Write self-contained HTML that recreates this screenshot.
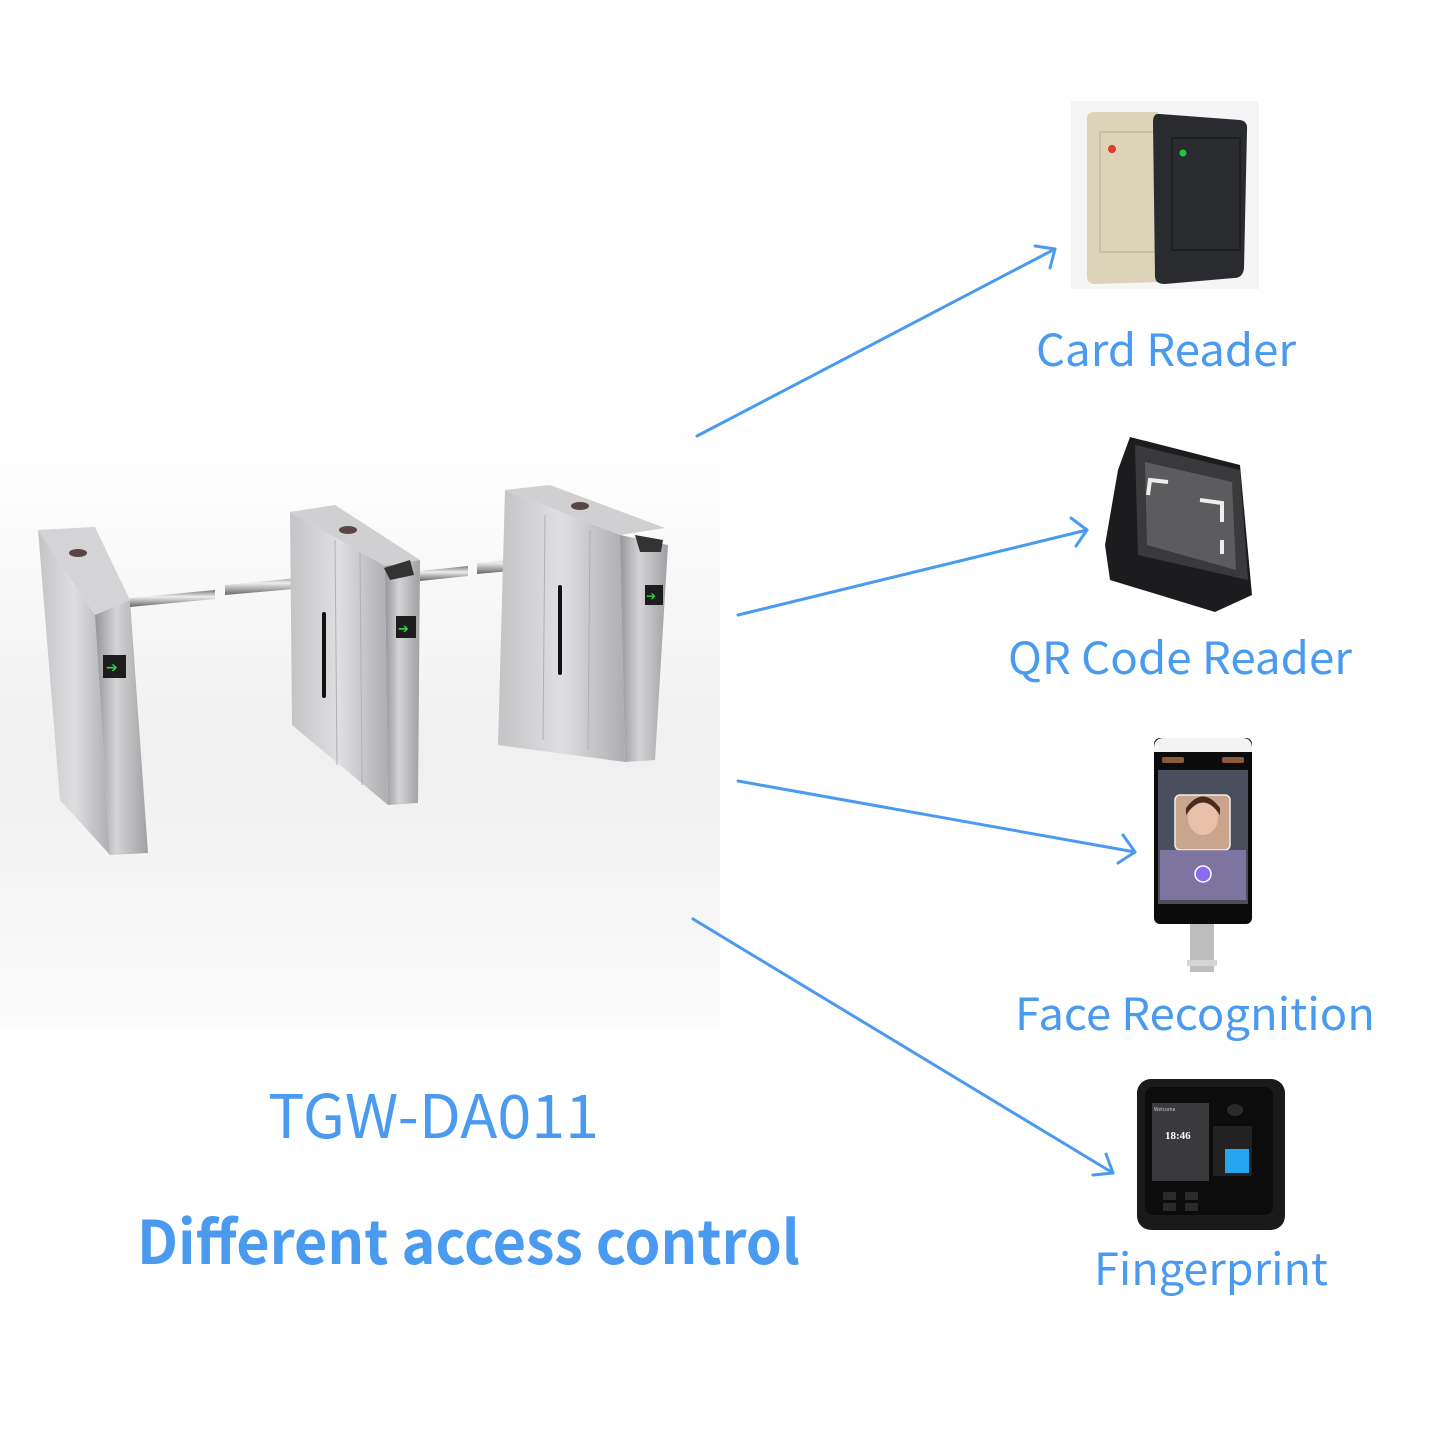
<!DOCTYPE html>
<html><head><meta charset="utf-8"><style>
html,body{margin:0;padding:0;background:#fff;}
svg{display:block;}
text{font-family:"Noto Sans CJK SC","Liberation Sans","DejaVu Sans",sans-serif;fill:#4a9af0;}
</style></head><body>
<svg width="1440" height="1440" viewBox="0 0 1440 1440" xmlns="http://www.w3.org/2000/svg">
<defs>
<linearGradient id="bg" x1="0" y1="0" x2="0" y2="1">
<stop offset="0" stop-color="#ffffff"/><stop offset="0.55" stop-color="#f0f0f0"/><stop offset="1" stop-color="#fbfbfb"/>
</linearGradient>
<linearGradient id="steel" x1="0" y1="0" x2="1" y2="0">
<stop offset="0" stop-color="#c4c4c7"/><stop offset="0.5" stop-color="#dfdfe1"/><stop offset="1" stop-color="#aeaeb2"/>
</linearGradient>
<linearGradient id="steel2" x1="0" y1="0" x2="1" y2="0">
<stop offset="0" stop-color="#95959a"/><stop offset="0.4" stop-color="#d4d4d6"/><stop offset="1" stop-color="#a0a0a4"/>
</linearGradient>
<linearGradient id="bar" x1="0" y1="0" x2="0" y2="1">
<stop offset="0" stop-color="#777"/><stop offset="0.4" stop-color="#eeeeee"/><stop offset="1" stop-color="#666"/>
</linearGradient>
</defs>
<rect x="0" y="430" width="720" height="595" fill="url(#bg)"/>

<!-- left unit -->
<polygon points="38,530 95,527 130,600 95,615" fill="#d4d4d6"/>
<polygon points="38,530 95,615 110,855 60,800" fill="url(#steel)"/>
<polygon points="95,615 130,600 148,853 110,855" fill="url(#steel2)"/>
<rect x="103" y="655" width="23" height="23" fill="#1d1d1d"/>
<text x="106" y="672" style="fill:#2fd34a;font-size:14px;font-family:'DejaVu Sans',sans-serif">➔</text>
<ellipse cx="78" cy="553" rx="9" ry="4" fill="#5a4545"/>
<polygon points="130,598 215,590 215,599 130,607" fill="url(#bar)"/>
<polygon points="225,585 328,575 328,586 225,595" fill="url(#bar)"/>

<!-- middle unit -->
<polygon points="290,512 335,505 420,560 385,566" fill="#d0d0d2"/>
<polygon points="290,512 385,566 388,805 292,725" fill="url(#steel)"/>
<line x1="335" y1="540" x2="337" y2="765" stroke="#b0b0b3" stroke-width="1"/>
<line x1="360" y1="553" x2="362" y2="785" stroke="#b0b0b3" stroke-width="1"/>
<polygon points="385,566 420,560 418,803 388,805" fill="url(#steel2)"/>
<rect x="322" y="612" width="4" height="86" rx="2" fill="#111"/>
<polygon points="384,568 410,560 414,575 390,580" fill="#333"/>
<rect x="396" y="616" width="20" height="22" fill="#1d1d1d"/>
<text x="398" y="633" style="fill:#2fd34a;font-size:13px;font-family:'DejaVu Sans',sans-serif">➔</text>
<ellipse cx="348" cy="530" rx="9" ry="4" fill="#5a4545"/>
<polygon points="420,571 468,566 468,576 420,581" fill="url(#bar)"/>
<polygon points="477,563 566,555 566,566 477,574" fill="url(#bar)"/>

<!-- right unit -->
<polygon points="505,490 550,485 665,528 620,535" fill="#d0d0d2"/>
<polygon points="505,490 620,535 625,762 498,745" fill="url(#steel)"/>
<line x1="545" y1="515" x2="543" y2="740" stroke="#b0b0b3" stroke-width="1"/>
<line x1="590" y1="530" x2="588" y2="750" stroke="#b0b0b3" stroke-width="1"/>
<polygon points="620,535 668,545 655,760 625,762" fill="url(#steel2)"/>
<rect x="558" y="585" width="4" height="90" rx="2" fill="#111"/>
<polygon points="635,535 663,540 661,552 640,552" fill="#333"/>
<rect x="645" y="585" width="18" height="20" fill="#1d1d1d"/>
<text x="646" y="600" style="fill:#2fd34a;font-size:12px;font-family:'DejaVu Sans',sans-serif">➔</text>
<ellipse cx="580" cy="506" rx="9" ry="4" fill="#5a4545"/>

<!-- card reader -->
<rect x="1071" y="101" width="188" height="188" fill="#f5f5f5"/>
<path d="M1087,118 Q1087,112 1095,112 L1158,112 L1160,282 L1095,284 Q1087,284 1087,276 Z" fill="#ddd3b8"/>
<rect x="1100" y="132" width="55" height="120" fill="none" stroke="#b8ad90" stroke-width="1"/>
<circle cx="1112" cy="149" r="4" fill="#e03a2a"/>
<path d="M1160,114 L1240,120 Q1248,121 1247,130 L1244,268 Q1243,278 1234,278 L1165,284 Q1155,284 1155,276 L1153,122 Q1153,113 1160,114 Z" fill="#2a2b2e"/>
<rect x="1172" y="138" width="68" height="112" fill="none" stroke="#1a1a1c" stroke-width="1.5"/>
<circle cx="1183" cy="153" r="3.5" fill="#1ec83a"/>

<!-- QR reader -->
<polygon points="1130,437 1240,465 1252,595 1215,612 1110,580 1105,545 1118,470" fill="#1c1c1e"/>
<polygon points="1135,445 1240,470 1248,580 1138,555" fill="#3a3a3c"/>
<polygon points="1145,462 1232,482 1236,570 1147,545" fill="#5c5c5e"/>
<path d="M1148,495 L1150,480 L1168,482" fill="none" stroke="#eee" stroke-width="4"/>
<path d="M1200,500 L1222,503 L1222,522" fill="none" stroke="#eee" stroke-width="4"/>
<rect x="1220" y="540" width="4" height="14" fill="#eee"/>

<!-- face recognition -->
<rect x="1190" y="920" width="24" height="52" fill="#bdbdbd"/>
<rect x="1187" y="960" width="30" height="6" fill="#d5d5d5"/>
<rect x="1154" y="738" width="98" height="186" rx="6" fill="#0b0b0b"/>
<path d="M1154,748 Q1154,738 1164,738 L1242,738 Q1252,738 1252,748 L1252,752 L1154,752 Z" fill="#f3f3f3"/>
<rect x="1162" y="757" width="22" height="6" rx="2" fill="#8a5a3a"/>
<rect x="1222" y="757" width="22" height="6" rx="2" fill="#8a5a3a"/>
<rect x="1158" y="770" width="90" height="134" fill="#4b4e5c"/>
<rect x="1175" y="795" width="55" height="55" rx="5" fill="#c9a58e" stroke="#eee" stroke-width="1.5"/>
<ellipse cx="1203" cy="818" rx="15" ry="17" fill="#e8c1a8"/>
<path d="M1186,815 Q1203,790 1220,815 L1220,808 Q1203,785 1186,808 Z" fill="#4a2a1e"/>
<rect x="1160" y="850" width="86" height="50" fill="#8a7fb0" opacity="0.8"/>
<circle cx="1203" cy="874" r="8" fill="#8b6cf0" stroke="#fff" stroke-width="1.5"/>

<!-- fingerprint -->
<rect x="1137" y="1079" width="148" height="151" rx="14" fill="#1a1a1a"/>
<rect x="1145" y="1087" width="128" height="128" rx="8" fill="#0c0c0c"/>
<rect x="1152" y="1103" width="57" height="78" fill="#3a3a3c"/>
<text x="1165" y="1139" style="fill:#fff;font-family:'Liberation Serif',serif;font-size:11px;font-weight:bold">18:46</text>
<text x="1154" y="1111" style="fill:#ccc;font-size:5px">Welcome</text>
<rect x="1213" y="1126" width="39" height="50" rx="2" fill="#222"/>
<rect x="1225" y="1149" width="24" height="24" fill="#27a6f0"/>
<ellipse cx="1235" cy="1110" rx="8" ry="6" fill="#2a2a2a"/>
<rect x="1163" y="1192" width="13" height="8" fill="#2a2a2a"/>
<rect x="1185" y="1192" width="13" height="8" fill="#2a2a2a"/>
<rect x="1163" y="1203" width="13" height="8" fill="#2a2a2a"/>
<rect x="1185" y="1203" width="13" height="8" fill="#2a2a2a"/>

<!-- arrows -->
<g stroke="#4a9af0" stroke-width="3" fill="none" stroke-linecap="round" stroke-linejoin="round">
<line x1="697" y1="436" x2="1055" y2="249"/>
<polyline points="1035,246 1055,249 1050,268"/>
<line x1="738" y1="615" x2="1087" y2="530"/>
<polyline points="1071,518 1087,530 1076,546"/>
<line x1="738" y1="781" x2="1135" y2="852"/>
<polyline points="1123,835 1135,852 1118,863"/>
<line x1="693" y1="919" x2="1113" y2="1173"/>
<polyline points="1106,1154 1113,1173 1093,1175"/>
</g>

<!-- labels -->
<text x="1036" y="366" style="font-size:44px" textLength="260" lengthAdjust="spacingAndGlyphs">Card Reader</text>
<text x="1008" y="674" style="font-size:44px" textLength="344" lengthAdjust="spacingAndGlyphs">QR Code Reader</text>
<text x="1015" y="1030" style="font-size:44px" textLength="360" lengthAdjust="spacingAndGlyphs">Face Recognition</text>
<text x="1094" y="1285" style="font-size:44px" textLength="234" lengthAdjust="spacingAndGlyphs">Fingerprint</text>
<text x="268" y="1138" style="font-size:60px" textLength="331" lengthAdjust="spacingAndGlyphs">TGW-DA011</text>
<text x="137" y="1264" style="font-size:60px;font-weight:bold" textLength="663" lengthAdjust="spacingAndGlyphs">Different access control</text>
</svg>
</body></html>
